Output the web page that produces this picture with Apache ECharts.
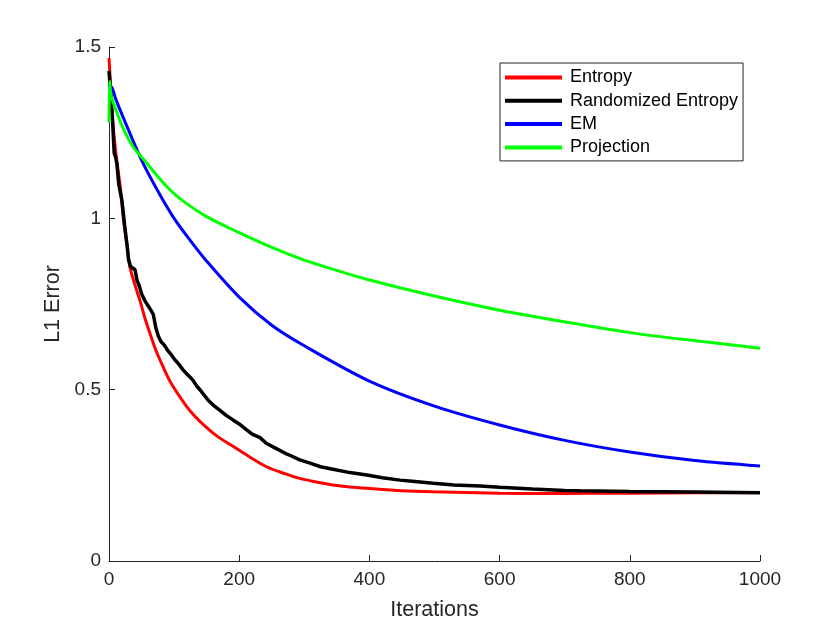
<!DOCTYPE html>
<html>
<head>
<meta charset="utf-8">
<script src="https://cdn.jsdelivr.net/npm/echarts@6/dist/echarts.min.js"></script>
<style>
  html, body { margin: 0; padding: 0; background: #fff; }
  #chart { width: 840px; height: 630px; }
</style>
</head>
<body>
<div id="chart"></div>
<script>
// values
var entropyIter = [0, 2, 5, 10, 14, 18, 22, 28, 32, 40, 48, 55, 63, 72, 83, 95, 112, 125, 140, 165, 191, 215, 242, 270, 293, 320, 344, 370, 396, 450, 498, 600, 700, 800, 900, 1000];
var entropyErr  = [1.468, 1.40, 1.30, 1.20, 1.14, 1.08, 1.0, 0.917, 0.859, 0.805, 0.757, 0.71, 0.664, 0.615, 0.567, 0.52, 0.47, 0.437, 0.407, 0.366, 0.334, 0.305, 0.275, 0.255, 0.241, 0.23, 0.222, 0.216, 0.212, 0.205, 0.202, 0.198, 0.197, 0.198, 0.199, 0.2];

var randIter = [0, 2, 5, 8, 10, 12, 15, 20, 24, 28, 30, 33, 36, 40, 43, 47, 50, 55, 60, 65, 68, 72, 76, 80, 85, 90, 94, 100, 107, 114, 120, 128, 135, 140, 152, 160, 170, 180, 191, 200, 210, 220, 232, 242, 255, 270, 282, 293, 310, 325, 344, 370, 396, 420, 447, 470, 498, 530, 570, 600, 650, 700, 723, 800, 900, 1000];
var randErr  = [1.43, 1.38, 1.30, 1.19, 1.18, 1.16, 1.10, 1.05, 0.98, 0.917, 0.88, 0.86, 0.855, 0.85, 0.82, 0.80, 0.78, 0.76, 0.745, 0.73, 0.72, 0.68, 0.655, 0.64, 0.63, 0.615, 0.606, 0.59, 0.575, 0.557, 0.545, 0.53, 0.51, 0.499, 0.47, 0.455, 0.44, 0.425, 0.411, 0.40, 0.385, 0.37, 0.36, 0.343, 0.33, 0.315, 0.305, 0.295, 0.285, 0.275, 0.268, 0.258, 0.251, 0.243, 0.236, 0.232, 0.227, 0.222, 0.219, 0.215, 0.21, 0.206, 0.205, 0.203, 0.201, 0.199];

var emIter = [0, 5, 10, 25, 50, 75, 100, 125, 150, 200, 250, 300, 400, 500, 600, 700, 800, 900, 1000];
var emErr  = [1.39, 1.38, 1.35, 1.28, 1.17, 1.08, 1.0, 0.935, 0.875, 0.77, 0.688, 0.628, 0.525, 0.452, 0.397, 0.352, 0.318, 0.293, 0.277];

var projIter = [0, 1, 3, 10, 20, 37, 54, 89, 112, 150, 200, 250, 300, 350, 400, 498, 600, 703, 805, 908, 1000];
var projErr  = [1.28, 1.40, 1.36, 1.32, 1.27, 1.209, 1.17, 1.092, 1.053, 1.005, 0.958, 0.915, 0.878, 0.848, 0.82, 0.774, 0.732, 0.697, 0.665, 0.641, 0.621];

var xTicks = [0, 200, 400, 600, 800, 1000];
var yTicks = [0, 0.5, 1, 1.5];

function pairs(xs, ys) {
    var out = [];
    for (var i = 0; i < xs.length; i++) {
        out.push([xs[i], ys[i]]);
    }
    return out;
}

function lineSeries(name, color, xs, ys, width, smooth) {
    return {
        name: name,
        type: 'line',
        showSymbol: false,
        smooth: smooth,
        lineStyle: { color: color, width: width },
        itemStyle: { color: color },
        data: pairs(xs, ys)
    };
}

var axisColor = '#262626';
var fontFamily = 'Liberation Sans, Arial, sans-serif';

var chart = echarts.init(document.getElementById('chart'));
chart.setOption({
    backgroundColor: '#fff',
    animation: false,
    grid: { left: 109, right: 80, top: 47, bottom: 69 },
    legend: {
        orient: 'vertical',
        left: 500,
        top: 63,
        padding: [5, 5, 4, 5],
        itemGap: 4.3,
        itemWidth: 57,
        itemHeight: 4,
        icon: 'rect',
        borderColor: axisColor,
        borderWidth: 1,
        backgroundColor: '#fff',
        textStyle: {
            color: '#000',
            fontSize: 18,
            lineHeight: 19,
            fontFamily: fontFamily,
            padding: [0, 0, 0, 3]
        },
        data: ['Entropy', 'Randomized Entropy', 'EM', 'Projection']
    },
    xAxis: {
        type: 'value',
        min: xTicks[0],
        max: xTicks[xTicks.length - 1],
        interval: 200,
        name: 'Iterations',
        nameLocation: 'middle',
        nameGap: 38,
        nameTextStyle: { color: axisColor, fontSize: 21.5, fontFamily: fontFamily },
        axisLine: { show: true, lineStyle: { color: axisColor, width: 1 } },
        axisTick: { show: true, inside: true, length: 6, lineStyle: { color: axisColor } },
        axisLabel: {
            color: axisColor, fontSize: 19, margin: 9, fontFamily: fontFamily,
            formatter: function (v) { return String(v); }
        },
        splitLine: { show: false }
    },
    yAxis: {
        type: 'value',
        min: yTicks[0],
        max: yTicks[yTicks.length - 1],
        interval: 0.5,
        name: 'L1 Error',
        nameLocation: 'middle',
        nameGap: 44,
        nameRotate: 90,
        nameTextStyle: { color: axisColor, fontSize: 21.5, fontFamily: fontFamily },
        axisLine: { show: true, lineStyle: { color: axisColor, width: 1 } },
        axisTick: { show: true, inside: true, length: 6, lineStyle: { color: axisColor } },
        axisLabel: { color: axisColor, fontSize: 19, margin: 8, fontFamily: fontFamily },
        splitLine: { show: false }
    },
    series: [
        lineSeries('Entropy', '#ff0000', entropyIter, entropyErr, 3, 0.3),
        lineSeries('Randomized Entropy', '#000000', randIter, randErr, 3.5, false),
        lineSeries('EM', '#0000ff', emIter, emErr, 3, 0.3),
        lineSeries('Projection', '#00ff00', projIter, projErr, 3, 0.3)
    ]
});
</script>
</body>
</html>
